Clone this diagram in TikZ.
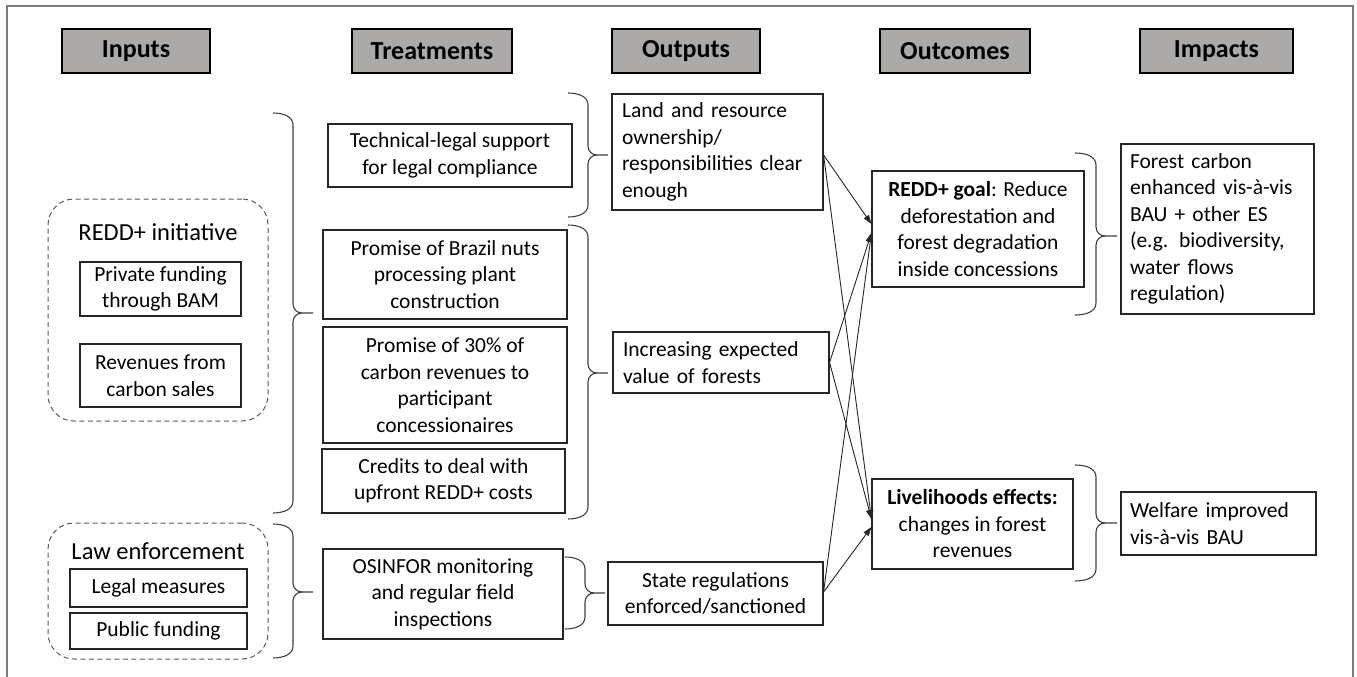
\documentclass[tikz,border=0pt]{standalone}
\usepackage{fontspec}
\setmainfont{Carlito}
\usetikzlibrary{arrows.meta}
\definecolor{hdrgray}{RGB}{172,169,169}
\definecolor{framegray}{RGB}{125,125,125}
\newcommand\bodyfont{\fontsize{21.5}{26.5}\selectfont}
\newcommand\hdrfont{\fontsize{26}{30}\selectfont\bfseries}
\newcommand\grpfont{\fontsize{24.5}{29}\selectfont}
% tipx, spinex, pointx, top, bottom, middle
\newcommand\mybrace[6]{%
  \draw[bracestyle] (#1,#4) to[out=0,in=90] (#2,#4+12) -- (#2,#6-9) to[out=-90,in=180] (#2+9,#6) -- (#3,#6);
  \draw[bracestyle] (#1,#5) to[out=0,in=-90] (#2,#5-12) -- (#2,#6+9) to[out=90,in=180] (#2+9,#6);
}
\begin{document}
\begin{tikzpicture}[x=1pt,y=-1pt,
  hdr/.style={draw=black, line width=1.6pt, fill=hdrgray, font=\hdrfont, minimum height=44, inner sep=0},
  box/.style={draw=black!85, line width=1.1pt, font=\bodyfont, align=center, inner sep=4},
  lbox/.style={draw=black!85, line width=1.1pt, font=\bodyfont, align=left, inner xsep=10, inner ysep=4},
  grp/.style={draw=black!65, line width=1pt, dash pattern=on 5pt off 3.5pt, rounded corners=26pt},
  grplabel/.style={font=\grpfont, inner sep=0},
  bracestyle/.style={draw=black!75, line width=1.1pt},
  arr/.style={draw=black!85, line width=0.9pt, -{Triangle[length=9pt,width=6pt]}}]
\useasboundingbox (0,0) rectangle (1357,677);
% frame
\draw[framegray, line width=1.2pt] (7,677) -- (7,6) -- (1353,6) -- (1353,677);

% headers
\node[hdr, minimum width=148] (hIn) at (136,51) {Inputs};
\node[hdr, minimum width=160] (hTr) at (432,51) {Treatments};
\node[hdr, minimum width=148] (hOp) at (686,51) {Outputs};
\node[hdr, minimum width=150] (hOc) at (955,51) {Outcomes};
\node[hdr, minimum width=153] (hIm) at (1216.5,51) {Impacts};

% inputs
\node[grp, minimum width=220, minimum height=222] (gRedd) at (158,310) {};
\node[grplabel] (lRedd) at (158,232) {REDD+ initiative};
\node[box, minimum width=161, minimum height=54] (priv) at (160.5,289) {Private funding\\through BAM};
\node[box, minimum width=161, minimum height=63] (rev) at (160.5,375.5) {Revenues from\\carbon sales};

\node[grp, minimum width=220, minimum height=136] (gLaw) at (158,591) {};
\node[grplabel] (lLaw) at (158,551) {Law enforcement};
\node[box, minimum width=177, minimum height=38] (legal) at (158.5,588) {Legal measures};
\node[box, minimum width=177, minimum height=36] (pub) at (158.5,631) {Public funding};

% treatments
\node[box, minimum width=244, minimum height=63] (tech) at (450,155.5) {Technical-legal support\\for legal compliance};
\node[box, minimum width=244, minimum height=89] (brazil) at (445,274.5) {Promise of Brazil nuts\\processing plant\\construction};
\node[box, minimum width=244, minimum height=116] (thirty) at (445,385) {Promise of 30\% of\\carbon revenues to\\participant\\concessionaires};
\node[box, minimum width=243, minimum height=64] (credits) at (443.5,481) {Credits to deal with\\upfront REDD+ costs};
\node[box, minimum width=240, minimum height=90] (osinfor) at (443,594) {OSINFOR monitoring\\and regular field\\inspections};

% outputs
\node[lbox, text width=191, minimum height=116] (land) at (717.5,152) {Land and resource\\ownership/\\responsibilities clear\\enough};
\node[lbox, text width=196, minimum height=61] (incr) at (721,362.5) {Increasing expected\\value of forests};
\node[box, minimum width=215, minimum height=63] (state) at (715.5,593.5) {State regulations\\enforced/sanctioned};

% outcomes
\node[box, minimum width=212, minimum height=116] (goal) at (978,229) {\textbf{REDD+ goal}: Reduce\\deforestation and\\forest degradation\\inside concessions};
\node[box, minimum width=201, minimum height=90] (liv) at (972.5,524) {\textbf{Livelihoods effects:}\\changes in forest\\revenues};

% impacts
\node[lbox, inner xsep=9, text width=175, minimum height=170] (carbon) at (1217.5,229) {Forest carbon\\enhanced vis-à-vis\\BAU + other ES\\(e.g. biodiversity,\\water flows\\regulation)};
\node[lbox, inner xsep=9, text width=177, minimum height=63] (welfare) at (1218.5,523.5) {Welfare improved\\vis-à-vis BAU};

% braces
\mybrace{273}{293}{313}{113}{513}{313}
\mybrace{273}{293}{313}{524}{658}{592}
\mybrace{568}{588}{608}{93}{217}{155}
\mybrace{568}{588}{608}{225}{519}{373}
\mybrace{565}{585}{605}{557}{629}{593}
\mybrace{1075}{1096}{1117}{153}{315}{236}
\mybrace{1075}{1096}{1117}{465}{581}{523}

% arrows
\coordinate (landO) at ([yshift=-3pt]land.east);
\coordinate (incrO) at (incr.east);
\coordinate (stateO) at ([yshift=1.5pt]state.east);
\coordinate (goalA) at ([yshift=5pt]goal.west);
\coordinate (goalB) at ([yshift=-4pt]goal.west);
\coordinate (livA) at ([yshift=5pt]liv.west);
\coordinate (livB) at ([yshift=-3pt]liv.west);
\draw[arr] (landO) -- (goalA);
\draw[arr] (landO) -- (livA);
\draw[arr] (incrO) -- (goalB);
\draw[arr] (incrO) -- (livA);
\draw[arr] (stateO) -- (goalB);
\draw[arr] (stateO) -- (livB);
\end{tikzpicture}
\end{document}
